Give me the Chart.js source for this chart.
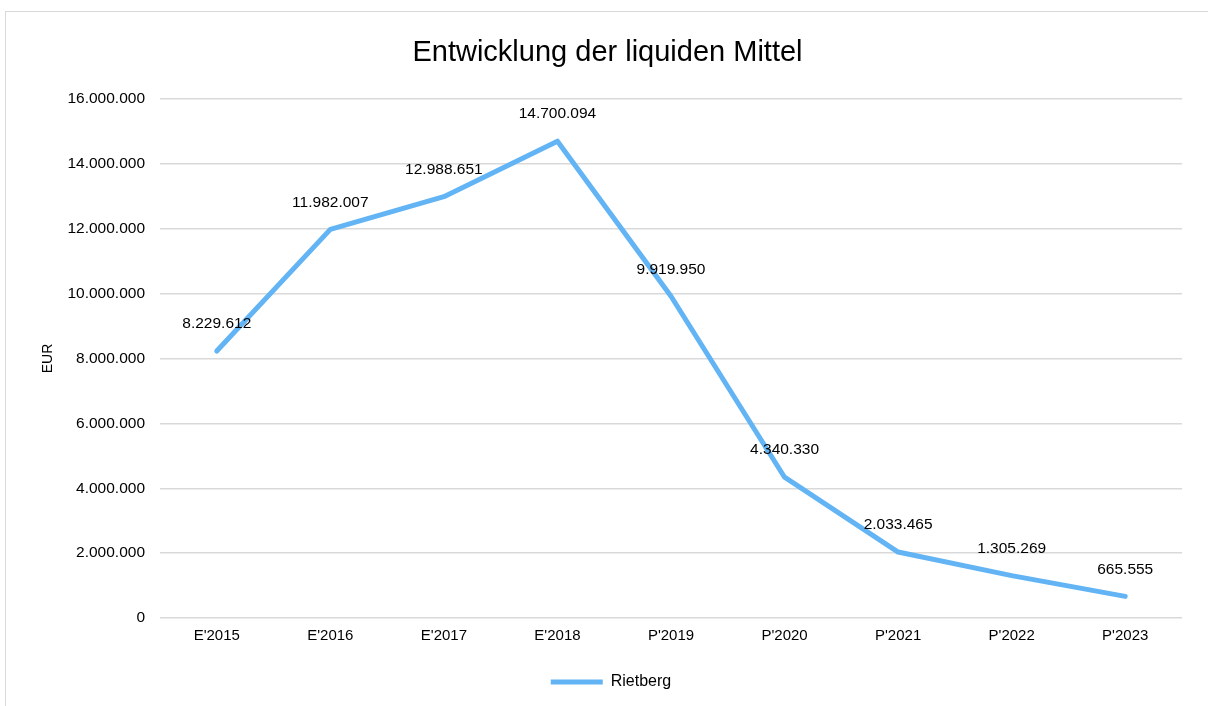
<!DOCTYPE html>
<html>
<head>
<meta charset="utf-8">
<script src="https://cdn.jsdelivr.net/npm/chart.js@4/dist/chart.umd.min.js"></script>
<style>
  html, body { margin: 0; padding: 0; background: #fff; overflow: hidden; }
  .frame { position: absolute; left: 5px; top: 11px; width: 1230px; height: 720px; border: 1px solid #d9d9d9; }
  .wrap { position: absolute; left: 0; top: 0; width: 1208px; height: 706px; }
</style>
</head>
<body>
<div class="frame"></div>
<div class="wrap"><canvas id="chart"></canvas></div>
<script>
// ---- Data ----
const categories = ["E'2015", "E'2016", "E'2017", "E'2018", "P'2019", "P'2020", "P'2021", "P'2022", "P'2023"];
const rietberg = [8229612, 11982007, 12988651, 14700094, 9919950, 4340330, 2033465, 1305269, 665555];
const yTicks = [0, 2000000, 4000000, 6000000, 8000000, 10000000, 12000000, 14000000, 16000000];

const FONT = "'Liberation Sans', Arial, sans-serif";
const LINE_COLOR = '#62b4f4';
const GRID = '#d9d9d9';

// German thousands separator
function fmt(v) {
  return String(Math.round(v)).replace(/\B(?=(\d{3})+(?!\d))/g, '.');
}

// ---- Data labels above each point ----
const pointLabels = {
  id: 'pointLabels',
  afterDatasetsDraw(chart) {
    const ctx = chart.ctx;
    const meta = chart.getDatasetMeta(0);
    ctx.save();
    ctx.font = '15.5px ' + FONT;
    ctx.fillStyle = '#000';
    ctx.textAlign = 'center';
    ctx.textBaseline = 'middle';
    meta.data.forEach((pt, i) => {
      ctx.fillText(fmt(chart.data.datasets[0].data[i]), pt.x, pt.y - 27);
    });
    ctx.restore();
  }
};

// title + legend sit a bit right of the plot centre in the original
const boxShift = {
  id: 'boxShift',
  afterLayout(chart) {
    if (chart.legend) chart.legend.left = 40;
    if (chart.titleBlock) chart.titleBlock.left = 33;
  }
};

new Chart(document.getElementById('chart'), {
  type: 'line',
  data: {
    labels: categories,
    datasets: [{
      label: 'Rietberg',
      data: rietberg,
      borderColor: LINE_COLOR,
      backgroundColor: LINE_COLOR,
      borderWidth: 5,
      borderCapStyle: 'round',
      borderJoinStyle: 'round',
      pointRadius: 0,
      tension: 0,
      fill: false
    }]
  },
  options: {
    responsive: true,
    maintainAspectRatio: false,
    animation: false,
    layout: { padding: { left: 0, right: 26, top: 0, bottom: 6 } },
    plugins: {
      title: {
        display: true,
        text: 'Entwicklung der liquiden Mittel',
        color: '#000',
        font: { family: FONT, size: 29, weight: 'normal' },
        padding: { top: 35.6, bottom: 28.6 }
      },
      legend: {
        position: 'bottom',
        labels: {
          color: '#000',
          font: { family: FONT, size: 16 },
          usePointStyle: true,
          pointStyle: 'line',
          pointStyleWidth: 52,
          padding: 20
        }
      },
      tooltip: { enabled: false }
    },
    scales: {
      x: {
        offset: true,
        grid: { display: false, drawTicks: false },
        border: { display: false },
        ticks: { color: '#000', font: { family: FONT, size: 15 }, padding: 9, maxRotation: 0 }
      },
      y: {
        min: 0,
        max: 16000000,
        afterBuildTicks: scale => { scale.ticks = yTicks.map(v => ({ value: v })); },
        afterFit: scale => { scale.width = 160; },
        grid: { color: GRID, lineWidth: 1.5, drawTicks: false },
        border: { display: false },
        ticks: { color: '#000', font: { family: FONT, size: 15.5 }, padding: 15, callback: v => fmt(v) },
        title: {
          display: true,
          text: 'EUR',
          color: '#000',
          font: { family: FONT, size: 14 },
          padding: { top: 40, bottom: 0 }
        }
      }
    }
  },
  plugins: [pointLabels, boxShift]
});
</script>
</body>
</html>
